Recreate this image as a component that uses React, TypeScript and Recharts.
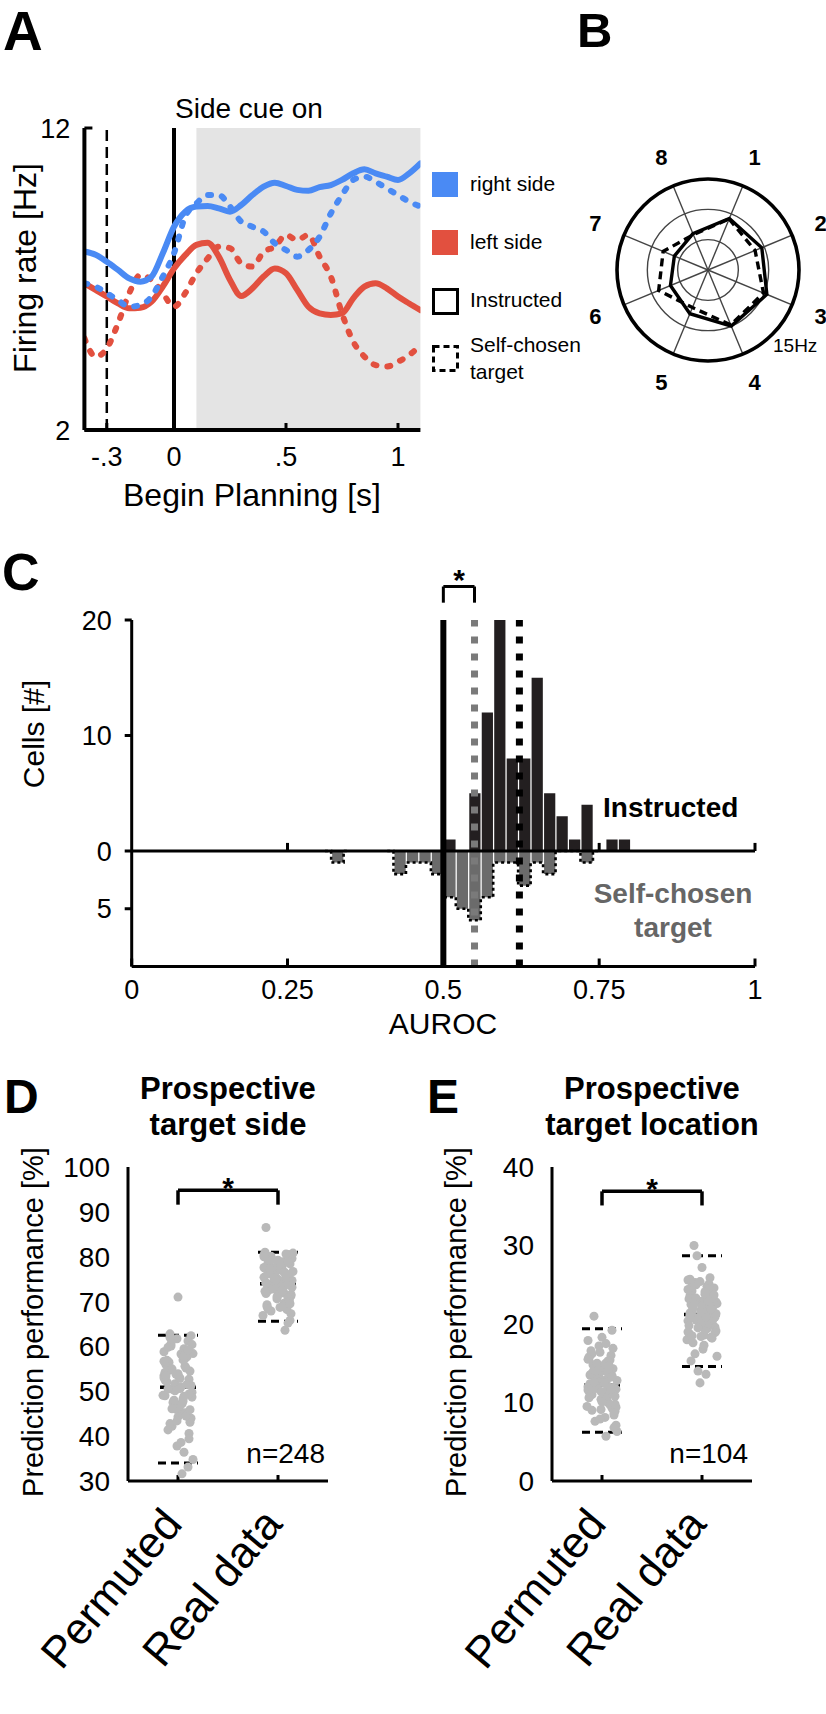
import React from "react";
import {
  LineChart, Line, XAxis, YAxis, ZAxis, ReferenceLine, ReferenceArea,
  RadarChart, Radar, PolarGrid, PolarAngleAxis, PolarRadiusAxis,
  ComposedChart, Bar, ScatterChart, Scatter,
} from "recharts";

const FONT = '"Liberation Sans", Arial, Helvetica, sans-serif';
const BLUE = "#4a8af4";
const RED = "#e2503f";
const DOT = "#b9b9b9";

// ---------- A: firing rate aligned to begin of planning ----------
const timeS = [-0.4, -0.35, -0.3, -0.25, -0.2, -0.15, -0.1, -0.05, 0, 0.05, 0.1, 0.15, 0.2, 0.25, 0.3, 0.35,
  0.4, 0.45, 0.5, 0.55, 0.6, 0.65, 0.7, 0.75, 0.8, 0.85, 0.9, 0.95, 1.0, 1.05, 1.1];
const rightInstructed = [7.91, 7.8, 7.57, 7.3, 7.02, 6.91, 7.08, 7.85, 8.73, 9.23, 9.4, 9.42, 9.34, 9.23, 9.45, 9.78,
  10.06, 10.19, 10.08, 9.95, 9.92, 10.04, 10.11, 10.28, 10.5, 10.63, 10.5, 10.39, 10.28, 10.5, 10.83];
const rightSelfChosen = [6.86, 6.75, 6.53, 6.3, 6.08, 6.14, 6.42, 7.08, 7.85, 9.06, 9.5, 9.78, 9.78, 9.4, 8.9, 8.73,
  8.57, 8.18, 7.96, 7.74, 7.96, 8.4, 9.17, 9.78, 10.28, 10.39, 10.22, 10.0, 9.78, 9.56, 9.4];
const leftInstructed = [6.86, 6.64, 6.42, 6.19, 6.03, 6.05, 6.25, 6.75, 7.35, 7.79, 8.13, 8.2, 7.74, 6.97, 6.44, 6.69,
  7.08, 7.35, 7.19, 6.64, 6.08, 5.86, 5.81, 5.86, 6.36, 6.75, 6.86, 6.69, 6.42, 6.19, 5.97];
const leftSelfChosen = [5.04, 4.43, 4.7, 5.53, 6.53, 7.13, 6.97, 6.53, 6.08, 6.53, 7.19, 7.68, 8.07, 8.02, 7.52, 7.41,
  7.9, 8.07, 8.46, 8.29, 8.46, 7.74, 7.08, 5.86, 4.93, 4.43, 4.15, 4.1, 4.26, 4.48, 4.81];
const timeTicks = [-0.3, 0, 0.5, 1];
const rateTicks = [2, 12];

// ---------- B: tuning to the 8 target directions ----------
const directions = ["1", "2", "3", "4", "5", "6", "7", "8"];
const tuningInstructed = [9.2, 9.6, 10.5, 10.0, 7.8, 6.7, 6.0, 6.5];
const tuningSelfChosen = [9.1, 8.4, 9.9, 9.8, 6.7, 8.8, 8.0, 6.3];

// ---------- C: AUROC histograms (bins of 0.02 from 0 to 1) ----------
const BIN = 0.02;
const instructedCells = [
  0, 0, 0, 0, 0, 0, 0, 0, 0, 0,
  0, 0, 0, 0, 0, 0, 0, 0, 0, 0,
  0, 0, 0, 0, 0, 1, 0, 5, 12, 20,
  8, 8, 15, 5, 3, 1, 4, 0, 1, 1,
  0, 0, 0, 0, 0, 0, 0, 0, 0, 0,
];
const selfChosenCells = [
  0, 0, 0, 0, 0, 0, 0, 0, 0, 0,
  0, 0, 0, 0, 0, 0, 1, 0, 0, 0,
  0, 2, 1, 1, 2, 4, 5, 6, 4, 1,
  1, 3, 1, 2, 0, 0, 1, 0, 0, 0,
  0, 0, 0, 0, 0, 0, 0, 0, 0, 0,
];
const chanceAuroc = 0.5;
const selfChosenMedian = 0.55;
const instructedMedian = 0.622;

// ---------- D / E: decoding performance ----------
const groups = ["Permuted", "Real data"];
const jitter = [-0.12, 0.05, 0.13, -0.03, 0.09, -0.14, 0.01, 0.11, -0.07, 0.04, -0.1, 0.14, -0.01, 0.07, -0.13, 0.02,
  0.1, -0.05, 0.12, -0.09, 0.06, -0.02, 0.15, -0.11, 0.03, -0.06, 0.08, -0.15, 0.0, 0.11, -0.08, 0.05, -0.12, 0.13,
  -0.04, 0.09, -0.1, 0.02, 0.14, -0.07, 0.06, -0.13, 0.01, 0.1, -0.03, 0.12, -0.09, 0.04, -0.14, 0.07, -0.01, 0.11,
  -0.06, 0.03, -0.11, 0.15, -0.05, 0.08, -0.12, 0.0, 0.13, -0.08, 0.05, -0.02, 0.1, -0.14, 0.06, -0.1, 0.02, 0.12,
  0.08, -0.13, 0.03, 0.11, -0.06, 0.14, -0.02, -0.1, 0.06, 0.0, -0.14, 0.09, -0.04, 0.12, -0.08, 0.04, -0.12, 0.1,
  -0.01, 0.07];

const sidePermuted = [56.1, 48.3, 62.4, 51.7, 44.9, 58.8, 53.2, 40.6, 60.1, 47.2, 55.4, 49.8, 37.8, 57.3, 52.5, 45.6,
  61.2, 50.4, 43.1, 54.7, 59.5, 46.4, 34.8, 56.9, 51.0, 42.2, 58.1, 49.1, 53.9, 39.4, 62.8, 47.8, 55.9, 44.0, 50.9,
  57.7, 41.4, 52.9, 48.7, 60.6, 36.4, 54.2, 46.9, 59.0, 50.1, 43.7, 56.5, 31.6, 53.5, 45.2, 61.7, 49.4, 55.0, 38.6,
  52.1, 58.4, 47.5, 44.5, 54.0, 71.0, 51.3, 42.8, 57.0, 46.0, 33.1, 53.0, 48.9, 59.8, 50.6, 45.9,
  55.2, 49.0, 58.3, 52.7, 46.1, 60.4, 53.8, 50.5, 57.9, 44.3, 56.7, 51.5, 48.0, 54.5, 62.0, 47.3, 53.4, 59.2, 43.4, 55.6];
const sideReal = [74.2, 78.9, 71.3, 76.5, 69.8, 80.4, 73.1, 75.7, 67.9, 77.8, 72.4, 79.6, 70.6, 74.9, 81.0, 68.7,
  76.0, 73.7, 65.8, 78.2, 71.9, 75.2, 80.8, 69.3, 77.1, 72.8, 74.5, 66.9, 79.2, 70.1, 76.9, 73.4, 86.5, 71.6, 75.9,
  68.2, 78.6, 72.1, 74.7, 80.1, 69.6, 77.4, 73.9, 65.2, 76.3, 71.0, 79.9, 72.6, 75.4, 63.6, 77.9, 70.4, 74.0, 78.1,
  68.9, 76.7, 73.0, 80.6, 71.8, 75.0, 67.3, 79.0, 72.9, 74.4, 70.8, 77.6, 69.1, 76.2, 73.6, 78.4,
  75.8, 72.3, 77.0, 70.0, 79.4, 73.2, 74.8, 68.4, 76.6, 71.4, 80.0, 73.8, 75.3, 69.5, 77.3, 72.7, 74.1, 78.8, 71.1, 76.4];
const sideMean = [50.9, 74.0];
const sideUpper = [62.5, 81.0];
const sideLower = [34.0, 65.6];

const locPermuted = [12.4, 15.1, 9.8, 13.7, 11.2, 17.9, 10.5, 14.3, 7.6, 12.9, 16.2, 11.7, 9.1, 13.3, 15.8, 10.9,
  19.2, 12.1, 8.4, 14.8, 11.4, 13.0, 6.3, 16.6, 10.2, 12.7, 15.4, 9.5, 14.0, 11.9, 21.0, 10.7, 13.5, 8.9, 12.3, 16.0,
  11.0, 14.6, 7.1, 13.1, 10.0, 15.6, 12.6, 9.3, 17.2, 11.5, 13.9, 5.7, 12.0, 14.4, 10.4, 16.9, 11.8, 8.1, 13.6, 12.8,
  15.0, 9.7, 11.3, 18.3, 10.8, 14.1, 12.2, 7.9, 13.4, 11.6, 15.3, 9.0, 12.5, 6.8,
  13.2, 10.6, 14.9, 11.1, 12.8, 9.4, 16.4, 12.0, 13.8, 10.1, 15.5, 11.7, 14.2, 8.7, 12.6, 17.5, 10.9, 13.3, 11.4, 14.7];
const locReal = [21.4, 24.8, 19.6, 22.9, 18.3, 25.6, 20.7, 23.4, 16.2, 22.1, 24.2, 19.1, 21.8, 25.1, 18.8, 23.0,
  20.2, 28.7, 21.0, 17.6, 24.5, 19.9, 22.6, 15.3, 23.8, 20.5, 25.9, 18.0, 22.3, 21.2, 30.0, 19.4, 23.6, 20.9, 14.0,
  24.0, 21.6, 18.6, 22.8, 25.3, 20.0, 23.2, 16.8, 21.9, 19.7, 24.6, 22.0, 13.6, 20.4, 23.9, 18.4, 21.5, 25.0, 19.3,
  22.5, 15.9, 20.8, 24.3, 21.1, 27.2, 18.9, 22.7, 20.1, 12.5, 23.5, 19.0, 21.7, 24.9, 17.3, 22.4,
  22.2, 19.8, 24.1, 20.6, 23.3, 21.3, 25.4, 18.5, 22.9, 20.3, 24.4, 21.9, 19.5, 23.7, 22.5, 20.9, 25.7, 18.2, 21.6, 23.0];
const locMean = [12.2, 21.2];
const locUpper = [19.4, 28.7];
const locLower = [6.2, 14.6];

// ---------- derived tables ----------
const aData = timeS.map((t, i) => ({
  t,
  rightInstructed: rightInstructed[i],
  rightSelfChosen: rightSelfChosen[i],
  leftInstructed: leftInstructed[i],
  leftSelfChosen: leftSelfChosen[i],
}));
const bData = directions.map((d, i) => ({ dir: d, instructed: tuningInstructed[i], selfChosen: tuningSelfChosen[i] }));
// outline of the self-chosen histogram: keep zeros only next to a filled bin
const cData = instructedCells.map((n, i) => {
  const s = selfChosenCells[i];
  const near = s > 0 || (selfChosenCells[i - 1] ?? 0) > 0 || (selfChosenCells[i + 1] ?? 0) > 0;
  return { auroc: i * BIN + BIN / 2, instructed: n, self: -s, outline: near ? -s : null };
});
const strip = (vals: number[], g: number) => vals.map((y, i) => ({ x: g + 0.5 + jitter[i % jitter.length], y }));

const fmtTime = (v: number) => (v === 0 || v === 1 ? String(v) : String(v).replace("0.", "."));

const axisStyle = { stroke: "#000", strokeWidth: 3 };
const tickFont = { fontSize: 27, fill: "#000", fontFamily: FONT };

function PolarTick(props: any) {
  const { x, y, payload } = props;
  return (
    <text x={x} y={y} textAnchor="middle" dominantBaseline="central" fontSize={22} fontWeight="bold" fill="#000" fontFamily={FONT}>
      {payload.value}
    </text>
  );
}

function SlantTick(props: any) {
  const { x, y, payload } = props;
  const ax = x + 6;
  const ay = y + 44;
  return (
    <text x={ax} y={ay} transform={`rotate(-50 ${ax} ${ay})`} textAnchor="end" fontSize={44} fill="#000" fontFamily={FONT}>
      {groups[Math.floor(payload.value)]}
    </text>
  );
}

function StripPanel(props: {
  permuted: number[]; real: number[]; mean: number[]; upper: number[]; lower: number[];
  domain: [number, number]; ticks: number[]; bracket: [number, number];
  width: number; left: number;
}) {
  const { permuted, real, mean, upper, lower, domain, ticks, bracket, width, left } = props;
  return (
    <ScatterChart width={width} height={674} margin={{ top: 127, right: width - 200 - left - 80, bottom: 173, left }}>
      <XAxis type="number" dataKey="x" domain={[0, 2]} ticks={[0.5, 1.5]} interval={0} height={60}
        axisLine={axisStyle} tickLine={axisStyle} tickSize={-6} tickMargin={6} tick={(p: any) => <SlantTick {...p} />} allowDataOverflow />
      <YAxis type="number" dataKey="y" domain={domain} ticks={ticks} interval={0} width={80}
        axisLine={axisStyle} tickLine={false} tickSize={0} tickMargin={18} tick={{ ...tickFont, fontSize: 28 }} allowDataOverflow />
      <ZAxis range={[38, 38]} />
      <Scatter data={strip(permuted, 0)} fill={DOT} isAnimationActive={false} />
      <Scatter data={strip(real, 1)} fill={DOT} isAnimationActive={false} />
      {[0, 1].map((g) => (
        <React.Fragment key={g}>
          <ReferenceLine segment={[{ x: g + 0.3, y: upper[g] }, { x: g + 0.7, y: upper[g] }]} stroke="#000" strokeWidth={3} strokeDasharray="8 5" />
          <ReferenceLine segment={[{ x: g + 0.3, y: lower[g] }, { x: g + 0.7, y: lower[g] }]} stroke="#000" strokeWidth={3} strokeDasharray="8 5" />
          <ReferenceLine segment={[{ x: g + 0.32, y: mean[g] }, { x: g + 0.68, y: mean[g] }]} stroke="#000" strokeWidth={3.5} />
        </React.Fragment>
      ))}
      <ReferenceLine segment={[{ x: 0.5, y: bracket[0] }, { x: 1.5, y: bracket[0] }]} stroke="#000" strokeWidth={3.5} />
      <ReferenceLine segment={[{ x: 0.5, y: bracket[0] }, { x: 0.5, y: bracket[1] }]} stroke="#000" strokeWidth={3.5} />
      <ReferenceLine segment={[{ x: 1.5, y: bracket[0] }, { x: 1.5, y: bracket[1] }]} stroke="#000" strokeWidth={3.5} />
    </ScatterChart>
  );
}

export default function App() {
  return (
    <div style={{ position: "absolute", left: 0, top: 0, width: 826, height: 1714, overflow: "hidden", background: "#fff", fontFamily: FONT }}>
      {/* A */}
      <div style={{ position: "absolute", left: 0, top: 0 }}>
        <LineChart width={440} height={530} data={aData} margin={{ top: 128, right: 19.6, bottom: 40, left: 24.4 }}>
          <ReferenceArea x1={0.1} x2={1.1} y1={2} y2={12} fill="#e4e4e4" fillOpacity={1} stroke="none" />
          <XAxis type="number" dataKey="t" domain={[-0.4, 1.1]} ticks={timeTicks} interval={0} tickFormatter={fmtTime} height={60}
            axisLine={{ stroke: "#000", strokeWidth: 4 }} tickLine={axisStyle} tickSize={-7} tickMargin={24} tick={tickFont} allowDataOverflow />
          <YAxis type="number" domain={[2, 12]} ticks={rateTicks} interval={0} width={60}
            axisLine={{ stroke: "#000", strokeWidth: 4 }} tickLine={axisStyle} tickSize={-8} tickMargin={22} tick={tickFont} allowDataOverflow />
          <ReferenceLine x={-0.3} stroke="#000" strokeWidth={2.5} strokeDasharray="11 6" />
          <ReferenceLine x={0} stroke="#000" strokeWidth={4} />
          <Line type="monotone" dataKey="leftSelfChosen" stroke={RED} strokeWidth={6} strokeDasharray="3 11" strokeLinecap="round" dot={false} isAnimationActive={false} />
          <Line type="monotone" dataKey="leftInstructed" stroke={RED} strokeWidth={6} strokeLinecap="round" dot={false} isAnimationActive={false} />
          <Line type="monotone" dataKey="rightSelfChosen" stroke={BLUE} strokeWidth={6} strokeDasharray="3 11" strokeLinecap="round" dot={false} isAnimationActive={false} />
          <Line type="monotone" dataKey="rightInstructed" stroke={BLUE} strokeWidth={6} strokeLinecap="round" dot={false} isAnimationActive={false} />
        </LineChart>
      </div>

      {/* B */}
      <div style={{ position: "absolute", left: 557.5, top: 119.5 }}>
        <RadarChart width={300} height={300} cx={150} cy={150} outerRadius={91} startAngle={67.5} endAngle={-292.5} data={bData}>
          <PolarGrid gridType="circle" polarRadius={[91 / 3, 182 / 3]} stroke="#444" strokeWidth={1.4} />
          <PolarGrid gridType="circle" polarRadius={[91]} radialLines={false} stroke="#000" strokeWidth={3.6} />
          <PolarAngleAxis dataKey="dir" axisLine={false} tickLine={false} tickSize={31} tick={(p: any) => <PolarTick {...p} />} />
          <PolarRadiusAxis domain={[0, 15]} tick={false} axisLine={false} />
          <Radar dataKey="selfChosen" stroke="#000" strokeWidth={3.4} strokeDasharray="8 5" fill="none" fillOpacity={0} dot={false} isAnimationActive={false} />
          <Radar dataKey="instructed" stroke="#000" strokeWidth={3.4} fill="none" fillOpacity={0} dot={false} isAnimationActive={false} />
        </RadarChart>
      </div>

      {/* C */}
      <div style={{ position: "absolute", left: 0, top: 540 }}>
        <ComposedChart width={800} height={520} data={cData} stackOffset="sign" barGap={0} barCategoryGap={0}
          margin={{ top: 80, right: 45, bottom: 43.5, left: 61.7 }}>
          <XAxis type="number" dataKey="auroc" domain={[0, 1]} ticks={[0, 0.25, 0.5, 0.75, 1]} interval={0} height={50}
            axisLine={axisStyle} tickLine={axisStyle} tickSize={-8} tickMargin={21} tick={tickFont} allowDataOverflow />
          <YAxis type="number" domain={[-10, 20]} ticks={[-5, 0, 10, 20]} interval={0} width={70} tickFormatter={(v: number) => String(Math.abs(v))}
            axisLine={axisStyle} tickLine={axisStyle} tickSize={7} tickMargin={13} tick={tickFont} allowDataOverflow />
          <Bar dataKey="instructed" stackId="h" fill="#231f20" barSize={13.2} isAnimationActive={false} />
          <Bar dataKey="self" stackId="h" fill="#6b6b6b" barSize={13.2} isAnimationActive={false} />
          <Line type="step" dataKey="outline" stroke="#000" strokeWidth={2.6} strokeDasharray="3 3" dot={false} connectNulls={false} isAnimationActive={false} />
          <ReferenceLine y={0} stroke="#000" strokeWidth={3.2} />
          {[0.25, 0.75, 1].map((v) => (
            <ReferenceLine key={v} segment={[{ x: v, y: 0 }, { x: v, y: 0.7 }]} stroke="#000" strokeWidth={3} />
          ))}
          <ReferenceLine x={chanceAuroc} stroke="#000" strokeWidth={6} />
          <ReferenceLine x={selfChosenMedian} stroke="#7a7a7a" strokeWidth={7} strokeDasharray="7 10" />
          <ReferenceLine x={instructedMedian} stroke="#000" strokeWidth={7} strokeDasharray="7 10" />
          <ReferenceLine segment={[{ x: chanceAuroc, y: 22.9 }, { x: selfChosenMedian, y: 22.9 }]} stroke="#000" strokeWidth={3} ifOverflow="visible" />
          <ReferenceLine segment={[{ x: chanceAuroc, y: 22.9 }, { x: chanceAuroc, y: 21.5 }]} stroke="#000" strokeWidth={3} ifOverflow="visible" />
          <ReferenceLine segment={[{ x: selfChosenMedian, y: 22.9 }, { x: selfChosenMedian, y: 21.5 }]} stroke="#000" strokeWidth={3} ifOverflow="visible" />
        </ComposedChart>
      </div>

      {/* D */}
      <div style={{ position: "absolute", left: 0, top: 1040 }}>
        <StripPanel permuted={sidePermuted} real={sideReal} mean={sideMean} upper={sideUpper} lower={sideLower}
          domain={[30, 100]} ticks={[30, 40, 50, 60, 70, 80, 90, 100]} bracket={[94.8, 91.6]} width={420} left={48} />
      </div>

      {/* E */}
      <div style={{ position: "absolute", left: 420, top: 1040 }}>
        <StripPanel permuted={locPermuted} real={locReal} mean={locMean} upper={locUpper} lower={locLower}
          domain={[0, 40]} ticks={[0, 10, 20, 30, 40]} bracket={[36.9, 35.1]} width={406} left={52} />
      </div>

      {/* labels, titles and legend */}
      <svg width={826} height={1714} style={{ position: "absolute", left: 0, top: 0, pointerEvents: "none" }} fontFamily={FONT}>
        <g fontWeight="bold" fill="#000">
          <text x={3} y={50} fontSize={55}>A</text>
          <text x={577} y={47} fontSize={49}>B</text>
          <text x={2} y={590} fontSize={52}>C</text>
          <text x={4} y={1113} fontSize={48}>D</text>
          <text x={427} y={1113} fontSize={48}>E</text>
        </g>

        <text x={175} y={118} fontSize={28}>Side cue on</text>
        <text transform="translate(36 268) rotate(-90)" textAnchor="middle" fontSize={32}>Firing rate [Hz]</text>
        <text x={252} y={506} textAnchor="middle" fontSize={32}>Begin Planning [s]</text>

        <rect x={432} y={172} width={26} height={25} fill={BLUE} />
        <rect x={432} y={230} width={26} height={25} fill={RED} />
        <rect x={433.5} y={289.5} width={24} height={24} fill="none" stroke="#000" strokeWidth={3} />
        <rect x={433.5} y={346.5} width={24} height={24} fill="none" stroke="#000" strokeWidth={3} strokeDasharray="6 4" />
        <g fontSize={21}>
          <text x={470} y={191}>right side</text>
          <text x={470} y={249}>left side</text>
          <text x={470} y={307}>Instructed</text>
          <text x={470} y={352}>Self-chosen</text>
          <text x={470} y={379}>target</text>
        </g>
        <text x={773} y={352} fontSize={19}>15Hz</text>

        <g fontWeight="bold" fontSize={30} textAnchor="middle">
          <text x={459} y={590}>*</text>
          <text x={228} y={1198}>*</text>
          <text x={652} y={1199}>*</text>
        </g>
        <text transform="translate(44 734) rotate(-90)" textAnchor="middle" fontSize={30}>Cells [#]</text>
        <text x={603} y={817} fontSize={28} fontWeight="bold">Instructed</text>
        <text x={673} y={903} textAnchor="middle" fontSize={28} fontWeight="bold" fill="#666">Self-chosen</text>
        <text x={673} y={937} textAnchor="middle" fontSize={28} fontWeight="bold" fill="#666">target</text>
        <text x={443} y={1034} textAnchor="middle" fontSize={30}>AUROC</text>

        <g fontWeight="bold" fontSize={31} textAnchor="middle">
          <text x={228} y={1099}>Prospective</text>
          <text x={228} y={1135}>target side</text>
          <text x={652} y={1099}>Prospective</text>
          <text x={652} y={1135}>target location</text>
        </g>
        <text transform="translate(43 1322) rotate(-90)" textAnchor="middle" fontSize={29}>Prediction performance [%]</text>
        <text transform="translate(466 1322) rotate(-90)" textAnchor="middle" fontSize={29}>Prediction performance [%]</text>
        <text x={325} y={1463} textAnchor="end" fontSize={28}>n=248</text>
        <text x={748} y={1463} textAnchor="end" fontSize={28}>n=104</text>
      </svg>
    </div>
  );
}
